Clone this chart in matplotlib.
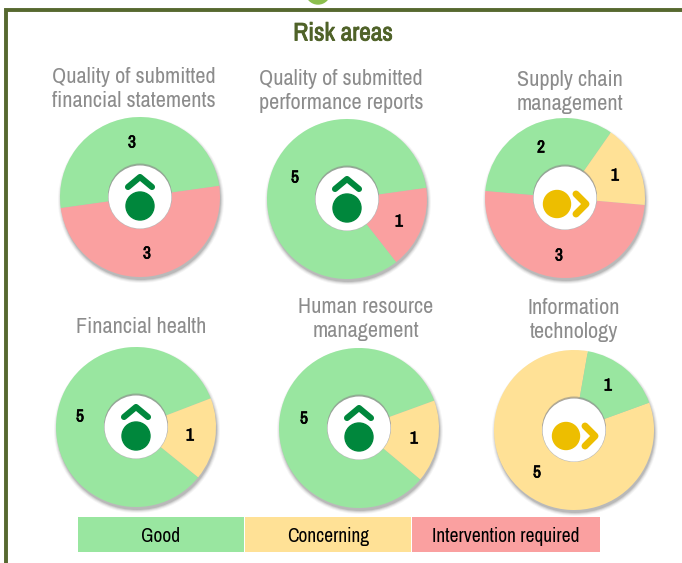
import matplotlib
matplotlib.use('Agg')
import matplotlib.pyplot as plt
import matplotlib.patheffects as pe
from matplotlib.patches import Circle, Rectangle

W, H = 682, 563

# data
titles = ['Quality of submitted\nfinancial statements',
          'Quality of submitted\nperformance reports',
          'Supply chain\nmanagement',
          'Financial health',
          'Human resource\nmanagement',
          'Information\ntechnology']
values = [[3, 3], [5, 1], [2, 3, 1], [5, 1], [5, 1], [5, 1]]
ratings = [['Good', 'Intervention required'],
           ['Good', 'Intervention required'],
           ['Good', 'Intervention required', 'Concerning'],
           ['Good', 'Concerning'],
           ['Good', 'Concerning'],
           ['Concerning', 'Good']]
icons = ['up', 'up', 'right', 'up', 'up', 'right']
legend_labels = ['Good', 'Concerning', 'Intervention required']

# layout, in reference pixels
centers = [(140, 197), (347, 199), (565, 198), (136, 427), (359, 428), (574, 430)]
start_angles = [8, 8, 55, 21, 20, 80]
title_pos = [(134, 89), (341, 91), (570, 92), (141, 327), (366, 319), (574, 320)]
label_pos = [[(132, 143), (147, 254)], [(295, 178), (399, 222)],
             [(541, 148), (559, 256), (615, 176)],
             [(80, 417), (190, 436)], [(304, 419), (414, 439)],
             [(537, 473), (608, 386)]]
legend_x = [78, 245, 412]
legend_w = [166, 166, 188]
colors = {'Good': '#99E6A0', 'Concerning': '#FFE196', 'Intervention required': '#FAA0A0'}
R, R_IN = 80, 32
NARROW = ['Archivo Narrow', 'Liberation Sans', 'DejaVu Sans']


def py(y):
    return H - y


fig = plt.figure(figsize=(W / 100, H / 100), dpi=100)
ax = fig.add_axes([0, 0, 1, 1])
ax.set_xlim(0, W)
ax.set_ylim(0, H)
ax.axis('off')

# frame and the bit of circle cut off at the top
ax.add_patch(Circle((318, py(-8)), 12, color='#8CBF4D', zorder=1))
ax.plot([6, 6, W], [0, py(10), py(10)], color='#56682F', lw=2.8, zorder=1,
        solid_joinstyle='miter')
ax.text(343, py(33), 'Risk areas', ha='center', va='center', fontsize=18.3,
        color='#4F6228', family=NARROW,
        path_effects=[pe.withStroke(linewidth=0.6, foreground='#4F6228')])


def draw_icon(cx, cy, kind):
    if kind == 'up':
        col = '#00873C'
        ax.add_patch(Circle((cx, py(cy + 9)), 14, color=col, zorder=5))
        ax.plot([cx - 12, cx, cx + 12], [py(cy - 10), py(cy - 20), py(cy - 10)],
                color=col, lw=4.4, zorder=5, solid_capstyle='round',
                solid_joinstyle='round')
    else:
        col = '#EDBE00'
        ax.add_patch(Circle((cx - 8, py(cy + 6)), 13.5, color=col, zorder=5))
        ax.plot([cx + 11, cx + 21, cx + 11], [py(cy - 4), py(cy + 6), py(cy + 16)],
                color=col, lw=5, zorder=5, solid_capstyle='round',
                solid_joinstyle='round')


for i, vals in enumerate(values):
    cx, cy = centers[i]
    # soft shadow under the ring
    for grow, alpha in [(3, 0.05), (2, 0.08), (1, 0.12), (0, 0.16)]:
        ax.add_patch(Circle((cx + 1, py(cy + 3)), R + grow, color='#404040',
                            alpha=alpha, lw=0, zorder=2))
    ax.pie(vals, colors=[colors[r] for r in ratings[i]], center=(cx, py(cy)),
           radius=R, startangle=start_angles[i], counterclock=True,
           wedgeprops={'width': R - R_IN, 'linewidth': 0, 'zorder': 3},
           frame=True)
    # inner shadow and white hole
    ax.add_patch(Circle((cx, py(cy - 1.5)), R_IN, color='#8A8A8A', alpha=0.6, lw=0, zorder=4))
    ax.add_patch(Circle((cx, py(cy)), R_IN - 0.5, color='white', lw=0, zorder=4))
    draw_icon(cx, cy, icons[i])
    ax.text(title_pos[i][0], py(title_pos[i][1]), titles[i], ha='center', va='center',
            fontsize=16, color='#8C8C8C', linespacing=1.2, family=NARROW)
    for v, (lx, ly) in zip(vals, label_pos[i]):
        ax.text(lx, py(ly), str(v), ha='center', va='center', fontsize=12.5,
                color='black', family=NARROW, zorder=6,
                path_effects=[pe.withStroke(linewidth=0.5, foreground='black')])

# the pie calls reset the limits and aspect
ax.set_xlim(0, W)
ax.set_ylim(0, H)
ax.set_aspect('auto')
ax.axis('off')

for name, x, w in zip(legend_labels, legend_x, legend_w):
    ax.add_patch(Rectangle((x, py(552)), w, 35, color=colors[name], lw=0, zorder=3))
    ax.text(x + w / 2, py(536), name, ha='center', va='center', fontsize=14,
            color='black', family=NARROW, zorder=4)

fig.savefig('out.png', dpi=100)
